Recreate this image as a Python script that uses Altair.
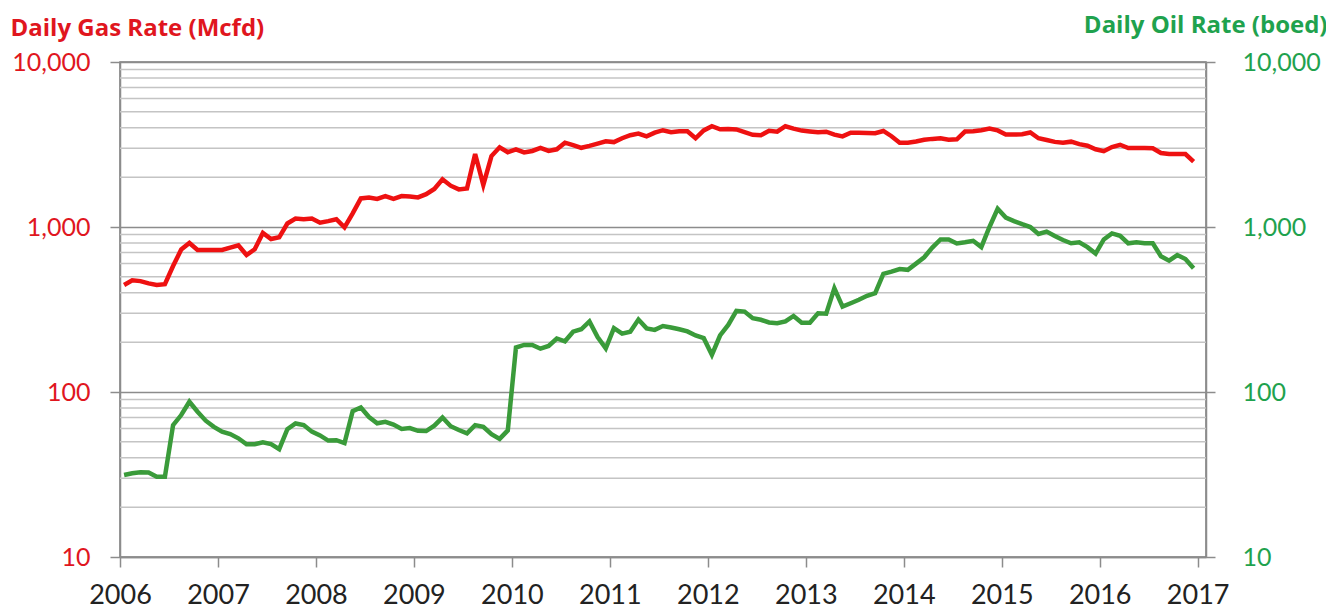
import altair as alt
import pandas as pd

# Monthly data, Jan 2006 .. Dec 2016
start_year = 2006
gas_mcfd = [
    445, 475, 470, 455, 445, 450, 580, 730, 800, 726, 726, 726,
    726, 750, 775, 676, 733, 920, 845, 866, 1050, 1125, 1114, 1125,
    1062, 1085, 1114, 995, 1210, 1490, 1510, 1480, 1540, 1480, 1540, 1530,
    1512, 1580, 1700, 1945, 1780, 1690, 1713, 2768, 1800, 2692, 3041, 2840,
    2958, 2830, 2890, 3020, 2890, 2958, 3243, 3139, 3020, 3100, 3200, 3310,
    3270, 3450, 3600, 3680, 3540, 3730, 3860, 3750, 3800, 3800, 3450, 3850,
    4080, 3910, 3930, 3900, 3760, 3620, 3600, 3830, 3780, 4080, 3950, 3840,
    3790, 3750, 3780, 3630, 3540, 3730, 3720, 3710, 3700, 3820, 3550, 3243,
    3243, 3300, 3380, 3420, 3450, 3380, 3400, 3790, 3810, 3860, 3950, 3850,
    3640, 3630, 3650, 3740, 3450, 3370, 3280, 3240, 3290, 3180, 3110, 2960,
    2880, 3050, 3150, 3010, 3010, 3010, 3000, 2810, 2770, 2770, 2770, 2490,
]
oil_boed = [
    31.4, 32.2, 32.6, 32.5, 30.6, 30.6, 63, 72.5, 87.3, 76, 67, 61.5,
    57.5, 55.6, 52.4, 48.2, 48.2, 49.6, 48.3, 45, 59.5, 64.5, 63, 57.5,
    54.6, 50.8, 51, 49, 76.5, 80.5, 70.5, 64.6, 66, 63.5, 59.7, 60.5,
    58.2, 58, 62.5, 70, 62, 58.8, 56.2, 63, 61.5, 55.5, 52, 58.5,
    186, 193, 193, 183, 190, 211, 203, 232, 240, 268, 215, 184,
    244, 226, 232, 275, 243, 238, 251, 246, 240, 233, 220, 212,
    168, 220, 255, 310, 307, 280, 274, 264, 261, 268, 289, 263,
    263, 300, 298, 425, 329, 345, 362, 383, 397, 520, 536, 556,
    550, 600, 655, 750, 840, 840, 795, 808, 825, 755, 1000, 1290,
    1140, 1085, 1040, 1000, 907, 938, 882, 834, 797, 807, 755, 690,
    840, 915, 885, 796, 807, 796, 796, 665, 625, 676, 640, 562,
]
year_ticks = list(range(2006, 2018))
major_vals = [10, 100, 1000, 10000]
minor_vals = [m * d for d in (10, 100, 1000) for m in range(2, 10)]

t = [start_year + (i + 0.5) / 12 for i in range(len(gas_mcfd))]
df = pd.DataFrame({"t": t, "gas": gas_mcfd, "oil": oil_boed})
grid_df = pd.DataFrame({"v": minor_vals})

RED_LINE = "#EE1111"
RED_TEXT = "#E0161E"
GREEN_LINE = "#3A9B3A"
GREEN_TEXT = "#1FA24E"
GRAY = "#8C8C8C"
FONT = "Lato"
TITLE_FONT = "Open Sans"

yscale = alt.Scale(type="log", domain=[10, 10000], nice=False)
xscale = alt.Scale(domain=[2006, 2017.085], nice=False, zero=False)

x_enc = alt.X(
    "t:Q",
    scale=xscale,
    axis=alt.Axis(
        values=year_ticks, format="d", grid=False, title=None,
        labelFont=FONT, labelFontSize=27, labelColor="#222222", labelPadding=15,
        tickSize=10, tickColor=GRAY, tickWidth=1.5,
        domainColor=GRAY, domainWidth=1.5, labelFlush=False,
    ),
)

grid = alt.Chart(grid_df).mark_rule(color="#C4C4C4", strokeWidth=1.5).encode(
    y=alt.Y("v:Q", scale=yscale, axis=None)
)

gas = alt.Chart(df).mark_line(color=RED_LINE, strokeWidth=4.5).encode(
    x=x_enc,
    y=alt.Y(
        "gas:Q",
        scale=yscale,
        axis=alt.Axis(
            orient="left", values=major_vals, format=",",
            grid=True, gridColor=GRAY, gridWidth=1.5,
            labelFont=FONT, labelFontSize=25, labelColor=RED_TEXT, labelPadding=20,
            tickSize=10, tickColor=GRAY, tickWidth=1.5,
            domainColor=GRAY, domainWidth=1.5,
            title="Daily Gas Rate (Mcfd)", titleAngle=0, titleAlign="left",
            titleBaseline="alphabetic", titleX=-110, titleY=-27,
            titleFont=TITLE_FONT, titleFontSize=24, titleFontWeight="bold",
            titleColor=RED_TEXT,
        ),
    ),
)

oil = alt.Chart(df).mark_line(color=GREEN_LINE, strokeWidth=4.5).encode(
    x=x_enc,
    y=alt.Y(
        "oil:Q",
        scale=yscale,
        axis=alt.Axis(
            orient="right", values=major_vals, format=",",
            grid=False,
            labelFont=FONT, labelFontSize=25, labelColor=GREEN_TEXT, labelPadding=27,
            tickSize=9, tickColor=GRAY, tickWidth=1.5,
            domainColor=GRAY, domainWidth=1.5,
            title="Daily Oil Rate (boed)", titleAngle=0, titleAlign="right",
            titleBaseline="alphabetic", titleX=121, titleY=-30,
            titleFont=TITLE_FONT, titleFontSize=24, titleFontWeight="bold",
            titleColor=GREEN_TEXT,
        ),
    ),
)

chart = (
    alt.layer(grid, gas, oil)
    .resolve_scale(y="independent")
    .properties(
        width=1086, height=495, autosize="none",
        padding={"left": 112, "top": 54, "right": 120, "bottom": 55},
        background="white",
    )
    .configure_view(stroke="#777777", strokeWidth=1.5)
)

chart.save("out.html", embed_options={"renderer": "svg", "actions": False})
